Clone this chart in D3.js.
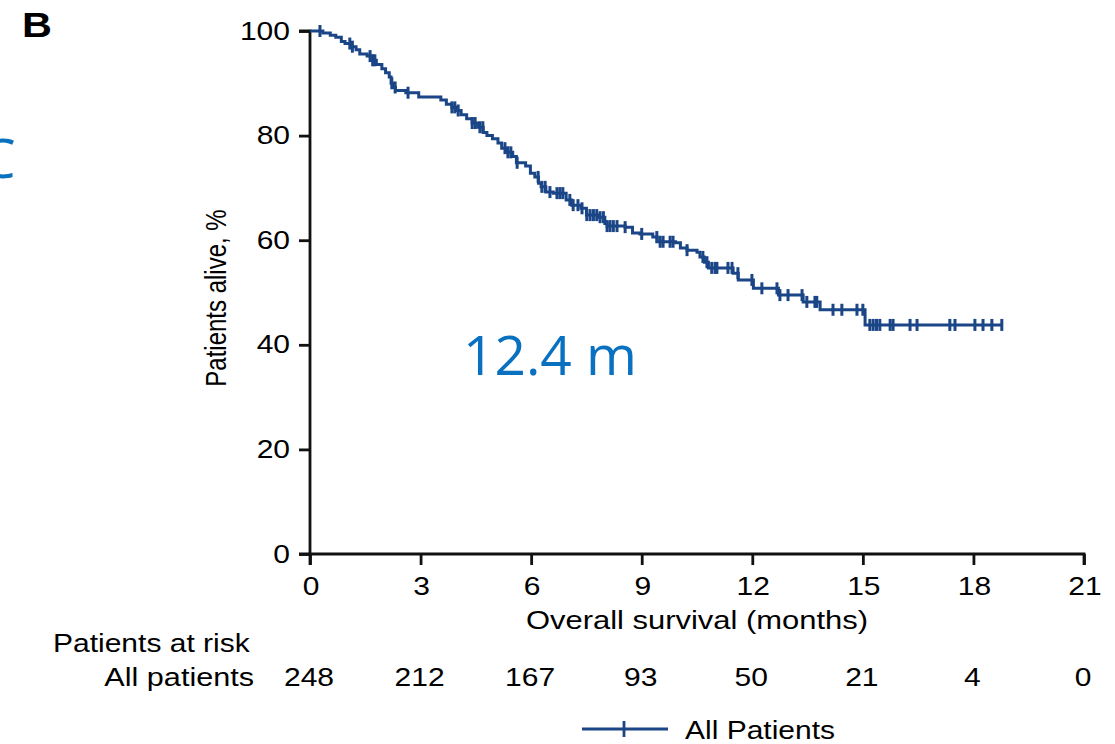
<!DOCTYPE html>
<html>
<head>
<meta charset="utf-8">
<script src="https://cdn.jsdelivr.net/npm/d3@7"></script>
<style>
  html, body { margin: 0; padding: 0; background: #fff; }
  svg { display: block; }
</style>
</head>
<body>
<svg id="chart" width="1115" height="744"></svg>
<script>
// ---------------- DATA ----------------
const stepTimes = [0,0.35,0.55,0.7,0.85,0.95,1.1,1.25,1.35,1.55,1.7,1.8,1.95,2.05,2.15,2.2,2.25,2.32,2.6,2.95,
  3.55,3.7,3.85,3.95,4.1,4.25,4.4,4.55,4.7,4.8,4.95,5.1,5.2,5.35,5.5,5.6,5.85,5.98,6.1,6.2,6.27,6.4,6.6,6.95,
  7.1,7.35,7.5,7.85,8.0,8.06,8.55,8.75,8.95,9.3,9.42,9.92,10.05,10.23,10.5,10.58,10.7,10.81,11.48,11.62,12.03,
  12.71,13.38,13.84,15.06];
const stepSurvival = [100,99.6,99.2,98.8,98.0,97.6,97.0,96.4,95.6,95.2,94.4,93.6,92.8,92.0,91.2,90.0,89.2,88.6,88.2,87.4,
  86.8,86.0,85.4,84.8,84.0,83.2,82.4,81.6,80.6,80.0,79.4,78.6,77.6,76.8,76.0,74.8,74.2,72.8,72.1,70.9,70.2,69.2,69.0,67.7,
  66.7,66.1,64.8,64.4,63.2,62.7,62.5,61.4,61.2,60.6,59.7,59.5,58.5,58.1,57.7,56.8,55.8,54.7,53.7,52.4,50.8,
  49.5,48.2,46.7,43.8];
const lastFollowUp = 18.8;
const censorTimes = [0.27,1.08,1.15,1.63,1.7,1.76,2.22,2.31,2.66,3.85,3.93,4.02,4.4,4.48,4.61,4.69,5.29,5.37,5.45,5.62,
  6.19,6.29,6.38,6.51,6.7,6.78,6.86,7.05,7.14,7.27,7.38,7.51,7.6,7.69,7.78,7.87,7.96,8.06,8.14,8.23,8.33,8.55,9.0,
  9.41,9.5,9.58,9.77,9.85,10.23,10.66,10.77,10.9,10.99,11.04,11.34,11.45,11.61,11.99,12.26,12.67,12.75,12.97,13.35,
  13.48,13.7,13.75,14.19,14.43,14.84,15.0,15.19,15.28,15.37,15.46,15.74,15.82,16.28,16.47,17.36,17.5,18.04,18.26,
  18.5,18.77];
const xTicks = [0,3,6,9,12,15,18,21];
const yTicks = [0,20,40,60,80,100];
const atRisk = [248,212,167,93,50,21,4,0];
const medianLabel = "12.4 m";
const seriesName = "All Patients";

// ---------------- SETUP ----------------
const svg = d3.select("#chart");
const BLUE = "#1a4586";
const FONT = "'Liberation Sans', Arial, sans-serif";
const SX = 1.2;   // horizontal stretch of the original figure text

const x = d3.scaleLinear().domain([0, 21]).range([310, 1084]);
const y = d3.scaleLinear().domain([0, 100]).range([554, 31]);

function stext(px, py, str, opts = {}) {
  const g = svg.append("g").attr("transform", `translate(${px},${py}) scale(${opts.sx ?? SX},1)`);
  g.append("text")
    .attr("x", 0).attr("y", 0)
    .attr("text-anchor", opts.anchor || "start")
    .attr("font-family", opts.family || FONT)
    .attr("font-size", opts.size || 25)
    .attr("font-weight", opts.weight || "normal")
    .attr("fill", opts.fill || "#000")
    .text(str);
  return g;
}

// ---------------- AXES ----------------
const yAxis = d3.axisLeft(y).tickValues(yTicks).tickSize(11).tickFormat("");
const xAxis = d3.axisBottom(x).tickValues(xTicks).tickSize(11).tickFormat("");

const gy = svg.append("g").attr("transform", `translate(${x(0)},0)`).call(yAxis);
const gx = svg.append("g").attr("transform", `translate(0,${y(0)})`).call(xAxis);
[gy, gx].forEach(g => {
  g.select(".domain").attr("stroke", "#111").attr("stroke-width", 2.8);
  g.selectAll(".tick line").attr("stroke", "#111").attr("stroke-width", 2.8);
});
gy.select(".domain").attr("d", `M-11,${y(100)}H0V${y(0)}H-11`);
gx.select(".domain").attr("d", `M${x(0)},11V0H${x(21)}V11`);

yTicks.forEach(v => stext(x(0) - 20, y(v) + 8.5, String(v), { anchor: "end" }));
xTicks.forEach(v => stext(x(v) + 1, 595, String(v), { anchor: "middle" }));

stext(697, 629, "Overall survival (months)", { anchor: "middle", size: 25.8 });

// Y axis title (rotated)
svg.append("g")
  .attr("transform", `translate(226,298) scale(${SX},1) rotate(-90)`)
  .append("text")
  .attr("text-anchor", "middle")
  .attr("font-family", FONT)
  .attr("font-size", 24)
  .attr("fill", "#000")
  .text("Patients alive, %");

// ---------------- CURVE ----------------
const pts = stepTimes.map((t, i) => [t, stepSurvival[i]]);
pts.push([lastFollowUp, stepSurvival[stepSurvival.length - 1]]);

const line = d3.line().x(d => x(d[0])).y(d => y(d[1])).curve(d3.curveStepAfter);
svg.append("path").datum(pts)
  .attr("fill", "none").attr("stroke", BLUE).attr("stroke-width", 3)
  .attr("stroke-linejoin", "miter")
  .attr("d", line);

function survAt(t) {
  let s = stepSurvival[0];
  for (let i = 0; i < stepTimes.length; i++) if (stepTimes[i] <= t) s = stepSurvival[i];
  return s;
}
svg.append("g").selectAll("line").data(censorTimes).join("line")
  .attr("x1", d => x(d)).attr("x2", d => x(d))
  .attr("y1", d => y(survAt(d)) - 6).attr("y2", d => y(survAt(d)) + 6)
  .attr("stroke", BLUE).attr("stroke-width", 3);

// ---------------- ANNOTATIONS ----------------
stext(22, 37, "B", { size: 36, weight: "bold", sx: 1.15 });

svg.append("text").attr("x", 463).attr("y", 375)
  .attr("font-family", "'Open Sans', 'Noto Sans', sans-serif")
  .attr("font-size", 55).attr("fill", "#0a70c0")
  .text(medianLabel);
svg.append("text").attr("x", -19).attr("y", 178)
  .attr("font-family", "'Open Sans', 'Noto Sans', sans-serif")
  .attr("font-size", 55).attr("fill", "#0a70c0")
  .text("C");

// ---------------- AT RISK TABLE ----------------
stext(53, 652, "Patients at risk");
stext(254, 686, "All patients", { anchor: "end", size: 25.5 });
xTicks.forEach((v, i) => stext(x(v) - 1, 686, String(atRisk[i]), { anchor: "middle" }));

// ---------------- LEGEND ----------------
const lg = svg.append("g");
lg.append("line").attr("x1", 582).attr("x2", 668).attr("y1", 729).attr("y2", 729)
  .attr("stroke", BLUE).attr("stroke-width", 2.8);
lg.append("line").attr("x1", 624).attr("x2", 624).attr("y1", 721).attr("y2", 737)
  .attr("stroke", BLUE).attr("stroke-width", 2.8);
stext(685, 739, seriesName);
</script>
</body>
</html>
